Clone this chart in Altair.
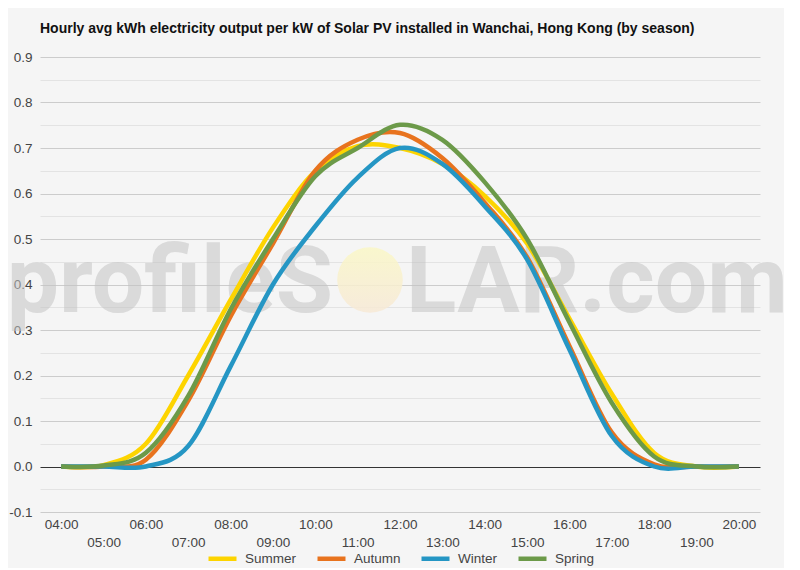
import altair as alt
import pandas as pd

# hourly values (kWh per kW installed)
hours = ['04:00', '05:00', '06:00', '07:00', '08:00', '09:00', '10:00', '11:00',
         '12:00', '13:00', '14:00', '15:00', '16:00', '17:00', '18:00', '19:00', '20:00']
summer = [0.0, 0.003, 0.05, 0.20, 0.366, 0.525, 0.649, 0.704,
          0.70, 0.665, 0.595, 0.49, 0.325, 0.16, 0.03, 0.0, 0.0]
autumn = [0.0, 0.0, 0.015, 0.145, 0.33, 0.49, 0.65, 0.718,
          0.733, 0.678, 0.58, 0.46, 0.265, 0.075, 0.005, 0.0, 0.0]
winter = [0.0, 0.0, 0.0, 0.045, 0.22, 0.40, 0.528, 0.635,
          0.70, 0.665, 0.572, 0.455, 0.257, 0.067, 0.0, 0.0, 0.0]
spring = [0.0, 0.002, 0.03, 0.155, 0.345, 0.50, 0.638, 0.70,
          0.751, 0.718, 0.625, 0.50, 0.317, 0.14, 0.022, 0.0, 0.0]

seasons = ['Summer', 'Autumn', 'Winter', 'Spring']
colors = ['#fdd400', '#e8731e', '#2596c4', '#6c9a49']
y_ticks = [round(-0.1 + 0.05 * i, 2) for i in range(21)]
watermark = ['profileS', 'LAR.com']

rows = []
for name, vals in zip(seasons, [summer, autumn, winter, spring]):
    for h, v in zip(hours, vals):
        rows.append({'hour': h, 'kwh': v, 'season': name})
data = pd.DataFrame(rows)

W, H = 720, 455
FONT = 'Liberation Sans'

x = alt.X('hour:O', sort=hours, title=None,
          scale=alt.Scale(type='point', padding=0.5),
          axis=alt.Axis(labelAngle=0, ticks=False, domain=False, grid=False,
                        labelFontSize=13.5, labelColor='#444', labelFont=FONT,
                        labelPadding=5, labelLineHeight=18, labelOverlap=False,
                        labelExpr="parseInt(substring(datum.label, 0, 2)) % 2 == 0 ? datum.label : ['', datum.label]"))

y = alt.Y('kwh:Q', title=None,
          scale=alt.Scale(domain=[-0.1, 0.9], nice=False, zero=False),
          axis=alt.Axis(values=y_ticks, ticks=False, domain=False,
                        labelFontSize=13.5, labelColor='#444', labelFont=FONT, labelPadding=8,
                        labelExpr="round(datum.value * 100) % 10 != 0 ? '' : replace(format(datum.value, '.1f'), '\u2212', '-')",
                        gridColor={'condition': [
                            {'test': 'abs(datum.value) < 0.001', 'value': '#333333'},
                            {'test': 'round(datum.value * 100) % 10 != 0', 'value': '#e3e3e3'}],
                            'value': '#cccccc'},
                        gridWidth=1))

lines = alt.Chart(data).mark_line(interpolate='cardinal', strokeWidth=4.5).encode(
    x=x,
    y=y,
    color=alt.Color('season:N', sort=seasons,
                    scale=alt.Scale(domain=seasons, range=colors),
                    legend=alt.Legend(title=None, orient='none', direction='horizontal',
                                      legendX=166, legendY=485,
                                      symbolType='stroke', symbolSize=784, symbolStrokeWidth=4.5,
                                      labelFontSize=13.5, labelColor='#444', labelFont=FONT,
                                      labelOffset=6, columnPadding=11))
)

# watermark behind the lines
wm = pd.DataFrame({'t': watermark, 'side': ['left', 'right']})
wm_style = dict(baseline='alphabetic', fontSize=93, font='Roboto', fontWeight='bold',
                color='#c4c4c4', opacity=0.55)
wm_left = alt.Chart(wm[wm.side == 'left']).mark_text(align='right', **wm_style).encode(
    x=alt.value(293), y=alt.value(255), text='t:N')
wm_right = alt.Chart(wm[wm.side == 'right']).mark_text(align='left', **wm_style).encode(
    x=alt.value(366), y=alt.value(255), text='t:N')
sun = alt.Chart(wm.head(1)).mark_circle(
    size=4300, opacity=0.85,
    fill=alt.Gradient(gradient='linear', x1=0, y1=0, x2=0, y2=1,
                      stops=[alt.GradientStop(color='#faf7c6', offset=0),
                             alt.GradientStop(color='#f7e9d6', offset=1)])
).encode(x=alt.value(330), y=alt.value(223))

chart = alt.layer(wm_left, wm_right, sun, lines).properties(
    width=W, height=H,
    autosize=alt.AutoSizeParams(type='none'),
    padding={'left': 32, 'top': 49, 'right': 24, 'bottom': 56},
    background='#f5f5f5',
    title=alt.TitleParams(
        'Hourly avg kWh electricity output per kW of Solar PV installed in Wanchai, Hong Kong (by season)',
        anchor='start', frame='group', fontSize=14, fontWeight='bold', font=FONT,
        color='#111', offset=14)
).configure_view(stroke=None)

chart.save('out.html', embed_options={'renderer': 'svg', 'actions': False})
